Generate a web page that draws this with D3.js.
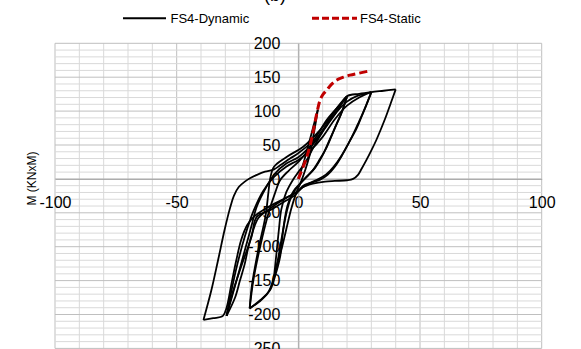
<!DOCTYPE html>
<html>
<head>
<meta charset="utf-8">
<script src="https://cdn.jsdelivr.net/npm/d3@7"></script>
<style>
body { margin: 0; background: #fff; }
text { font-family: "Liberation Sans", Arial, sans-serif; }
</style>
</head>
<body>
<div id="chart"></div>
<script>
var xTicks = [-100, -50, 0, 50, 100];
var yTicks = [-250, -200, -150, -100, -50, 0, 50, 100, 150, 200];
var seriesNames = ["FS4-Dynamic", "FS4-Static"];

// static pushover curve (disp, moment)
var staticCurve = [[0,0],[2,18],[3.5,33],[5,52],[6.2,72],[7.6,97],[8.9,116],[10,124],[11.7,131],[13.5,139],[15.8,146],[18.5,150],[21.2,153],[25,156],[29.5,159.5]];

// dynamic hysteresis, one array per branch
var c1Up = [[0,0],[2,22],[4,48],[6,75],[8,102]];
var c1Down = [[8,102],[7,80],[6,60],[5,40],[3,15],[1,-5],[-1,-22],[-3,-45],[-5,-75],[-7,-105],[-9,-130],[-10,-145]];
var c1Re = [[-10,-145],[-9,-110],[-8,-75],[-7,-45],[-5,-20],[-2,0],[0,10],[3,25],[6,45],[10,70],[14,95],[17,110],[20,122]];
var c2Down = [[20,122],[18,100],[15.8,82],[13.5,62],[11.7,47],[9,30],[6,13],[3,2],[0.5,-8],[-2,-20],[-3.4,-31],[-5,-52],[-6.2,-75],[-7.5,-115],[-9.6,-144],[-11.6,-164],[-15.7,-179],[-20,-191]];
var c2Re = [[-20,-191],[-18.5,-150],[-15.7,-100],[-12.3,-51],[-9.6,-21],[-7.5,-2],[-4,12],[0,25],[4,42],[8,60],[12,80],[16,100],[18,112],[20,122]];
var c2bDown = [[20,122],[17.5,95],[15,75],[12.5,55],[10,35],[7,17],[4,5],[1,-6],[-2,-18],[-4.5,-40],[-6.5,-80],[-8.2,-115],[-10,-145],[-12.5,-168],[-16,-181],[-20,-191]];
var c2bRe = [[-20,-191],[-19,-155],[-16.5,-105],[-13.5,-55],[-12.3,-20],[-11.6,0],[-10,18],[-5,32],[2,47.5],[8.9,72],[14,95],[17,108],[20,122],[25,125.5],[30,128]];
var c3Down = [[30,128],[28,110],[26,92],[24,75],[21,55],[18,35],[15,18],[12,6],[9,-1],[5,-6],[2,-10],[-1.4,-24],[-6,-34],[-11,-45],[-17.1,-56],[-19.2,-85],[-22.6,-120],[-26.7,-164],[-29.5,-202]];
var c3Re = [[-29.5,-202],[-25.4,-150],[-21.6,-100],[-19.3,-70],[-17.1,-41],[-13,-11],[-9.6,8],[-4.8,23],[0,32],[4,45],[8,62],[12,82],[16,100],[20,114],[24,122],[30,128]];
var c3bDown = [[30,128],[27.5,105],[25,85],[22,62],[19,42],[16,25],[13,12],[10,3],[6,-4],[2,-12],[-1,-20],[-5,-28],[-9,-37],[-13,-47],[-16.5,-58],[-18.5,-75],[-20.5,-100],[-22,-125],[-24,-150],[-26,-175],[-29.5,-202]];
var c3bRe = [[-29.5,-202],[-27.5,-165],[-25,-125],[-22,-85],[-18.5,-48],[-14.5,-18],[-10,3],[-5,18],[0,28],[5,42],[10,62],[15,88],[20,108],[25,120],[30,128],[35,130],[40,132]];
var c4Down = [[40,132],[38,112],[36,92],[34,74],[32,57],[30,42],[28,28],[26,15],[24.5,6],[22.5,0],[20,-2],[15,-3],[11,-4],[6,-7],[2,-12],[0,-18],[-4,-26],[-9,-35],[-14,-45],[-18,-55],[-21,-68],[-23.5,-90],[-25.5,-120],[-27.5,-155],[-29.5,-190],[-31,-202],[-35,-205.5],[-39,-208]];
var c4Re = [[-39,-208],[-35.8,-165],[-33,-120],[-30.3,-75],[-28,-42],[-26.5,-25],[-24.5,-12],[-22,-4],[-19.9,1],[-17,6],[-13.7,10.6],[-10,14],[-7.5,20],[-3.4,30],[0,38],[6.2,57],[11.7,87],[16,105],[20,120]];

var dynamicBranches = [c1Up, c1Down, c1Re, c2Down, c2Re, c2bDown, c2bRe, c3Down, c3Re, c3bDown, c3bRe, c4Down, c4Re];

var width = 581,
height = 349;

var svg = d3.select("#chart")
.append("svg")
.attr("width", width)
.attr("height", height);

var xScale = d3.scaleLinear()
.domain([-100, 100])
.range([55, 541.7]);

var yScale = d3.scaleLinear()
.domain([-250, 200])
.range([348.4, 43.3]);

// gridlines every 10, darker every 50
var grid = svg.append("g");

grid.selectAll(".vgrid")
.data(d3.range(-100, 101, 10))
.enter()
.append("line")
.attr("x1", function(d) { return xScale(d); })
.attr("x2", function(d) { return xScale(d); })
.attr("y1", yScale(200))
.attr("y2", yScale(-250))
.attr("stroke", function(d) { return d % 50 == 0 ? "#bfbfbf" : "#d9d9d9"; })
.attr("stroke-width", 1);

grid.selectAll(".hgrid")
.data(d3.range(-250, 201, 10))
.enter()
.append("line")
.attr("x1", xScale(-100))
.attr("x2", xScale(100))
.attr("y1", function(d) { return yScale(d); })
.attr("y2", function(d) { return yScale(d); })
.attr("stroke", function(d) { return d % 50 == 0 ? "#bfbfbf" : "#d9d9d9"; })
.attr("stroke-width", 1);

// plain hyphen minus like the original
var plainFormat = function(d) { return String(d); };

var xAxis = svg.append("g")
.attr("transform", "translate(0," + yScale(0) + ")")
.call(d3.axisBottom(xScale).tickValues(xTicks).tickFormat(plainFormat).tickSize(0).tickPadding(18));

var yAxis = svg.append("g")
.attr("transform", "translate(" + xScale(0) + ",0)")
.call(d3.axisLeft(yScale).tickValues(yTicks).tickFormat(plainFormat).tickSize(0).tickPadding(18));

svg.selectAll(".domain")
.attr("stroke", "#a6a6a6");

svg.selectAll(".tick text")
.attr("font-size", "16px")
.attr("font-family", "Liberation Sans, Arial, sans-serif")
.attr("fill", "#000");

var line = d3.line()
.x(function(d) { return xScale(d[0]); })
.y(function(d) { return yScale(d[1]); })
.curve(d3.curveCatmullRom.alpha(0.5));

svg.selectAll(".dyn")
.data(dynamicBranches)
.enter()
.append("path")
.attr("class", "dyn")
.attr("d", line)
.attr("fill", "none")
.attr("stroke", "#000")
.attr("stroke-width", 1.8)
.attr("stroke-linejoin", "round");

svg.append("path")
.datum(staticCurve)
.attr("d", line)
.attr("fill", "none")
.attr("stroke", "#c00000")
.attr("stroke-width", 3)
.attr("stroke-dasharray", "8,4");

// title (cut off at top)
svg.append("text")
.text("(b)")
.attr("x", 275)
.attr("y", 1)
.attr("text-anchor", "middle")
.attr("font-size", "18px");

// y axis title
svg.append("text")
.text("M (KNxM)")
.attr("transform", "translate(36,178.5) rotate(-90)")
.attr("text-anchor", "middle")
.attr("font-size", "12px");

// legend
var legend = svg.append("g");

legend.append("line")
.attr("x1", 123).attr("x2", 166)
.attr("y1", 18.3).attr("y2", 18.3)
.attr("stroke", "#000")
.attr("stroke-width", 2);

legend.append("text")
.text(seriesNames[0])
.attr("x", 170.5)
.attr("y", 22.8)
.attr("font-size", "13px");

legend.append("line")
.attr("x1", 312).attr("x2", 357)
.attr("y1", 18.3).attr("y2", 18.3)
.attr("stroke", "#c00000")
.attr("stroke-width", 3)
.attr("stroke-dasharray", "7,3");

legend.append("text")
.text(seriesNames[1])
.attr("x", 360)
.attr("y", 22.8)
.attr("font-size", "13px");
</script>
</body>
</html>
